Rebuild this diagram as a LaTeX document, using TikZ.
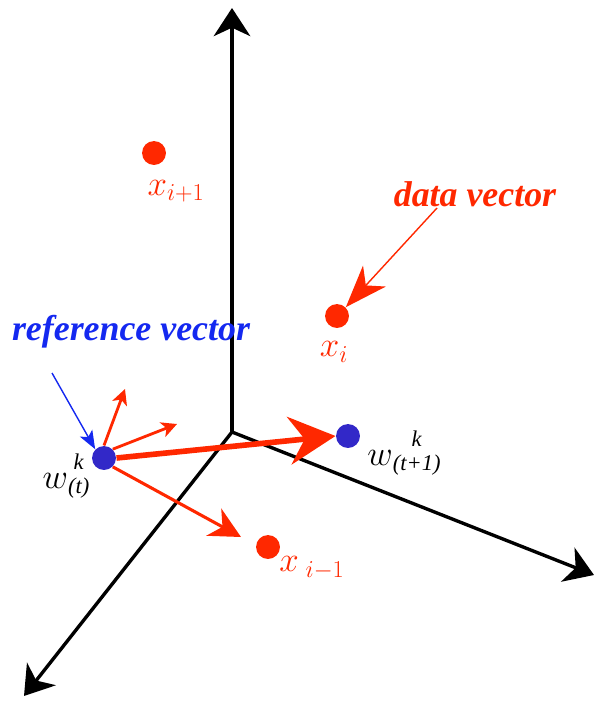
\documentclass[tikz,border=0pt]{standalone}
\usepackage{fontspec}
\setmainfont{Liberation Serif}
\usepackage{xcolor}
\usetikzlibrary{arrows.meta, positioning, calc}
\definecolor{dotred}{RGB}{255,40,0}
\definecolor{dotblue}{RGB}{50,40,200}
\definecolor{txtblue}{RGB}{20,40,240}

% w mit k oben und Index unten
\newcommand{\wlabel}[1]{$w$\raisebox{-4pt}{\fontsize{16}{17}\selectfont\itshape
    \begin{tabular}[b]{@{}c@{}}k\\(#1)\end{tabular}}}

\tikzset{
    axis/.style={line width=2.4pt, -{Stealth[length=20pt, width=26pt, inset=6pt]}},
    datadot/.style={circle, fill=dotred, inner sep=0pt, minimum size=17pt},
    refdot/.style={circle, fill=dotblue, inner sep=0pt, minimum size=17pt},
    lbl/.style={text=dotred, font=\fontsize{26}{28}\selectfont},
    bigtitle/.style={font=\fontsize{25.5}{28}\selectfont\bfseries\itshape}
}

\begin{document}
\begin{tikzpicture}[x=0.025cm, y=-0.025cm, >=Stealth, thick]
    \useasboundingbox (0,0) rectangle (596,704);

    % Achsen
    \coordinate (o) at (232,432);
    \coordinate (zt) at (232,8);
    \coordinate (xt) at (594,575);
    \coordinate (yt) at (24,696);
    \draw[axis] (o) -- (zt);
    \draw[axis] (o) -- (xt);
    \draw[axis] (o) -- (yt);

    % Datenpunkte
    \node[datadot] (xnext) at (154,153) {};
    \node[datadot] (xcur) at (337,316) {};
    \node[datadot] (xprev) at (268,547) {};
    \node[lbl] (lnext) at (176,191) {$x_{i+1}$};
    \node[lbl] (lcur) at (334,352) {$x_i$};
    \node[lbl] (lprev) at (312,568) {$x_{\;i-1}$};

    % Referenzvektoren
    \node[refdot] (wt) at (104,458) {};
    \node[refdot] (wnext) at (348,436) {};
    \node[font=\fontsize{26}{28}\selectfont, inner sep=1pt] (lwt) at (66,477) {\wlabel{t}};
    \node[font=\fontsize{26}{28}\selectfont, inner sep=1pt] (lwnext) at (404,454) {\wlabel{t+1}};

    % Verschiebung des Referenzvektors
    \coordinate (up) at (125,389);
    \coordinate (mid) at (177,424);
    \coordinate (low) at (241,537);
    \draw[dotred, line width=2pt, -{Stealth[length=11pt, width=11pt, inset=3pt]}] (wt.north) -- (up);
    \draw[dotred, line width=2pt, -{Stealth[length=11pt, width=11pt, inset=3pt]}] (wt.north east) -- (mid);
    \draw[dotred, line width=2.2pt, -{Stealth[length=22pt, width=22pt, inset=7pt]}] (wt.south east) -- (low);
    \draw[dotred, line width=4pt, -{Stealth[length=33pt, width=34pt, inset=11pt]}] (wt.east) -- (wnext.west);

    % Beschriftungen
    \node[bigtitle, text=txtblue] (refv) at (131,332) {reference vector};
    \node[bigtitle, text=dotred] (datav) at (475,194) {data vector};
    \coordinate (refstart) at (52,373);
    \coordinate (datastart) at (437,208);
    \draw[txtblue, line width=1pt, -{Stealth[length=13pt, width=10pt, inset=3pt]}] (refstart) -- (wt.north west);
    \draw[dotred, line width=1pt, -{Stealth[length=30pt, width=22pt, inset=9pt]}] (datastart) -- (xcur.north east);
\end{tikzpicture}
\end{document}
